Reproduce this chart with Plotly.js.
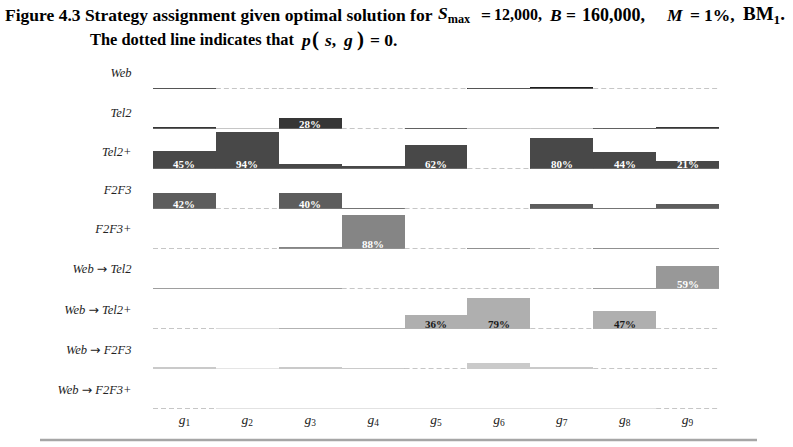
<!DOCTYPE html>
<html><head><meta charset="utf-8">
<script src="https://cdn.plot.ly/plotly-3.0.1.min.js"></script>
<style>html,body{margin:0;padding:0;background:#fff}#chart{width:793px;height:447px}</style>
</head><body><div id="chart"></div>
<script>
// ---- data ----
const groups = [1, 2, 3, 4, 5, 6, 7, 8, 9];
const groupLabels = ['<i>g</i><sub>1</sub>', '<i>g</i><sub>2</sub>', '<i>g</i><sub>3</sub>', '<i>g</i><sub>4</sub>', '<i>g</i><sub>5</sub>', '<i>g</i><sub>6</sub>', '<i>g</i><sub>7</sub>', '<i>g</i><sub>8</sub>', '<i>g</i><sub>9</sub>'];
const strategies = ['Web', 'Tel2', 'Tel2+', 'F2F3', 'F2F3+', 'Web \u2192 Tel2', 'Web \u2192 Tel2+', 'Web \u2192 F2F3', 'Web \u2192 F2F3+'];
const web       = [0.03, 0,    0,    0,    0,    0.02, 0.04, 0,    0];
const tel2      = [0.04, 0.01, 0.28, 0,    0.03, 0.01, 0.01, 0.03, 0.05];
const tel2Plus  = [0.45, 0.94, 0.13, 0.07, 0.62, 0,    0.80, 0.44, 0.21];
const f2f3      = [0.42, 0,    0.40, 0.03, 0,    0,    0.12, 0.02, 0.12];
const f2f3Plus  = [0,    0,    0.06, 0.88, 0,    0.02, 0,    0.03, 0.03];
const webTel2   = [0.02, 0.03, 0.02, 0,    0,    0,    0,    0.02, 0.59];
const webTel2P  = [0,    0.01, 0.02, 0.02, 0.36, 0.79, 0,    0.47, 0];
const webF2F3   = [0.05, 0.01, 0.05, 0.02, 0,    0.15, 0.04, 0,    0];
const webF2F3P  = [0,    0.02, 0.02, 0.02, 0.02, 0.02, 0.02, 0.02, 0];
const shares = [web, tel2, tel2Plus, f2f3, f2f3Plus, webTel2, webTel2P, webF2F3, webF2F3P];

// ---- styles ----
const rowColors = ['#1e1e1e', '#363636', '#484848', '#5d5d5d', '#858585', '#989898', '#afafaf', '#cacaca', '#e2e2e2'];
const baseColors = ['#8c8c8c', '#8c8c8c', '#8c8c8c', '#8c8c8c', '#9a9a9a', '#a4a4a4', '#b4b4b4', '#cacaca', '#e2e2e2'];
const rowTextColors = ['#ffffff', '#ffffff', '#ffffff', '#ffffff', '#ffffff', '#ffffff', '#1a1a1a', '#1a1a1a', '#1a1a1a'];
const labelPos = [0.41, 0.41, 0.44, 0.49, 0.51, 0.51, 0.49, 0.49, 0.49];
const serif = '"Liberation Serif", "Times New Roman", serif';
const arrowSpan = s => s.replace('\u2192', '<span style="font-family:DejaVu Sans;font-style:normal">\u2192</span>');

const W = 793, H = 447;
const M = {l: 153, r: 74, t: 49, b: 38};
const plotW = W - M.l - M.r, plotH = H - M.t - M.b;
const n = strategies.length;

const traces = [];
const layout = {
  width: W, height: H, margin: M,
  paper_bgcolor: '#fff', plot_bgcolor: '#fff',
  showlegend: false, bargap: 0,
  font: {family: serif, color: '#222'},
  annotations: [], shapes: []
};

strategies.forEach((name, i) => {
  const ax = i === 0 ? 'y' : 'y' + (i + 1);
  const axKey = i === 0 ? 'yaxis' : 'yaxis' + (i + 1);
  const vals = shares[i];
  const sx = [], sy = [], dx = [], dy = [];
  vals.forEach((v, j) => {
    const seg = [groups[j] - 0.5, groups[j] + 0.5, null];
    if (v === 0) { dx.push(...seg); dy.push(0, 0, null); }
    else { sx.push(...seg); sy.push(0, 0, null); }
  });
  traces.push({type: 'scatter', mode: 'lines', x: sx, y: sy, xaxis: 'x', yaxis: ax,
    line: {color: baseColors[i], width: 1}, cliponaxis: false, hoverinfo: 'skip'});
  traces.push({type: 'scatter', mode: 'lines', x: dx, y: dy, xaxis: 'x', yaxis: ax,
    line: {color: '#b4b4b4', width: 1.5, dash: '5px,3px'}, cliponaxis: false, hoverinfo: 'skip'});
  traces.push({
    type: 'bar', x: groups, y: vals, xaxis: 'x', yaxis: ax,
    marker: {color: rowColors[i], line: {width: 0}}, hoverinfo: 'skip'
  });
  vals.forEach((v, j) => {
    if (v >= 0.2) {
      layout.annotations.push({
        xref: 'x', yref: ax, x: groups[j], y: 0, xanchor: 'center', yanchor: 'bottom', yshift: -3,
        showarrow: false, text: '<b>' + Math.round(v * 100) + '%</b>',
        font: {family: serif, size: 11, color: rowTextColors[i]}
      });
    }
  });
  layout[axKey] = {
    domain: [(n - 1 - i) / n, (n - i) / n], range: [0, 1.026], anchor: 'x',
    tickvals: [labelPos[i]], ticktext: ['<i>' + arrowSpan(name) + '</i>'],
    ticks: 'outside', ticklen: 18, tickcolor: 'rgba(0,0,0,0)',
    showgrid: false, zeroline: false, showline: false, fixedrange: true,
    tickfont: {family: serif, size: 12.5, color: '#222'}
  };
});

layout.xaxis = {
  anchor: 'y' + n, range: [0.5, 9.5], tickvals: groups, ticktext: groupLabels,
  showgrid: false, zeroline: false, showline: false, ticks: '', fixedrange: true,
  tickfont: {family: serif, size: 13.5, color: '#222'}
};

const px2x = p => (p - M.l) / plotW;
const py2y = p => (H - M.b - p) / plotH;

layout.shapes.push({type: 'line', xref: 'paper', yref: 'paper',
  x0: px2x(40), x1: px2x(757), y0: py2y(440), y1: py2y(440),
  line: {color: '#a6a6a6', width: 2.5}});

// title pieces: [text, left pixel, centre pixel y, font size]
const titleParts = [
  ['Figure 4.3 Strategy assignment given optimal solution for', 3, 15, 17.5],
  ['<i>S</i><sub>max</sub>', 436, 15, 17.5],
  ['=', 479, 15, 17.5],
  ['12,000,', 492, 15, 16],
  ['<i>B</i>', 547, 15, 17.5],
  ['=', 564, 15, 17.5],
  ['160,000,', 580, 15, 18],
  ['<i>M</i>', 664, 15, 17.5],
  ['=', 688, 15, 17.5],
  ['1%,', 702, 15, 17.5],
  ['BM<sub>1</sub>.', 741, 15, 19],
  ['The dotted line indicates that', 88, 39.5, 16.4],
  ['<i>p</i>', 298, 39.5, 17.5],
  ['(', 310, 38.5, 21],
  ['<i>s</i>,', 322, 39.5, 17.5],
  ['<i>g</i>', 341, 39.5, 17.5],
  [')', 355, 38.5, 21],
  ['= 0.', 368, 39.5, 17.5]
];
titleParts.forEach(([t, px, py, fs]) => {
  layout.annotations.push({
    xref: 'paper', yref: 'paper', x: px2x(px), y: py2y(py), xanchor: 'left', yanchor: 'middle',
    showarrow: false, text: '<b>' + t + '</b>', font: {family: serif, size: fs, color: '#000'}
  });
});

Plotly.newPlot('chart', traces, layout, {staticPlot: true, displayModeBar: false});
</script>
</body></html>
